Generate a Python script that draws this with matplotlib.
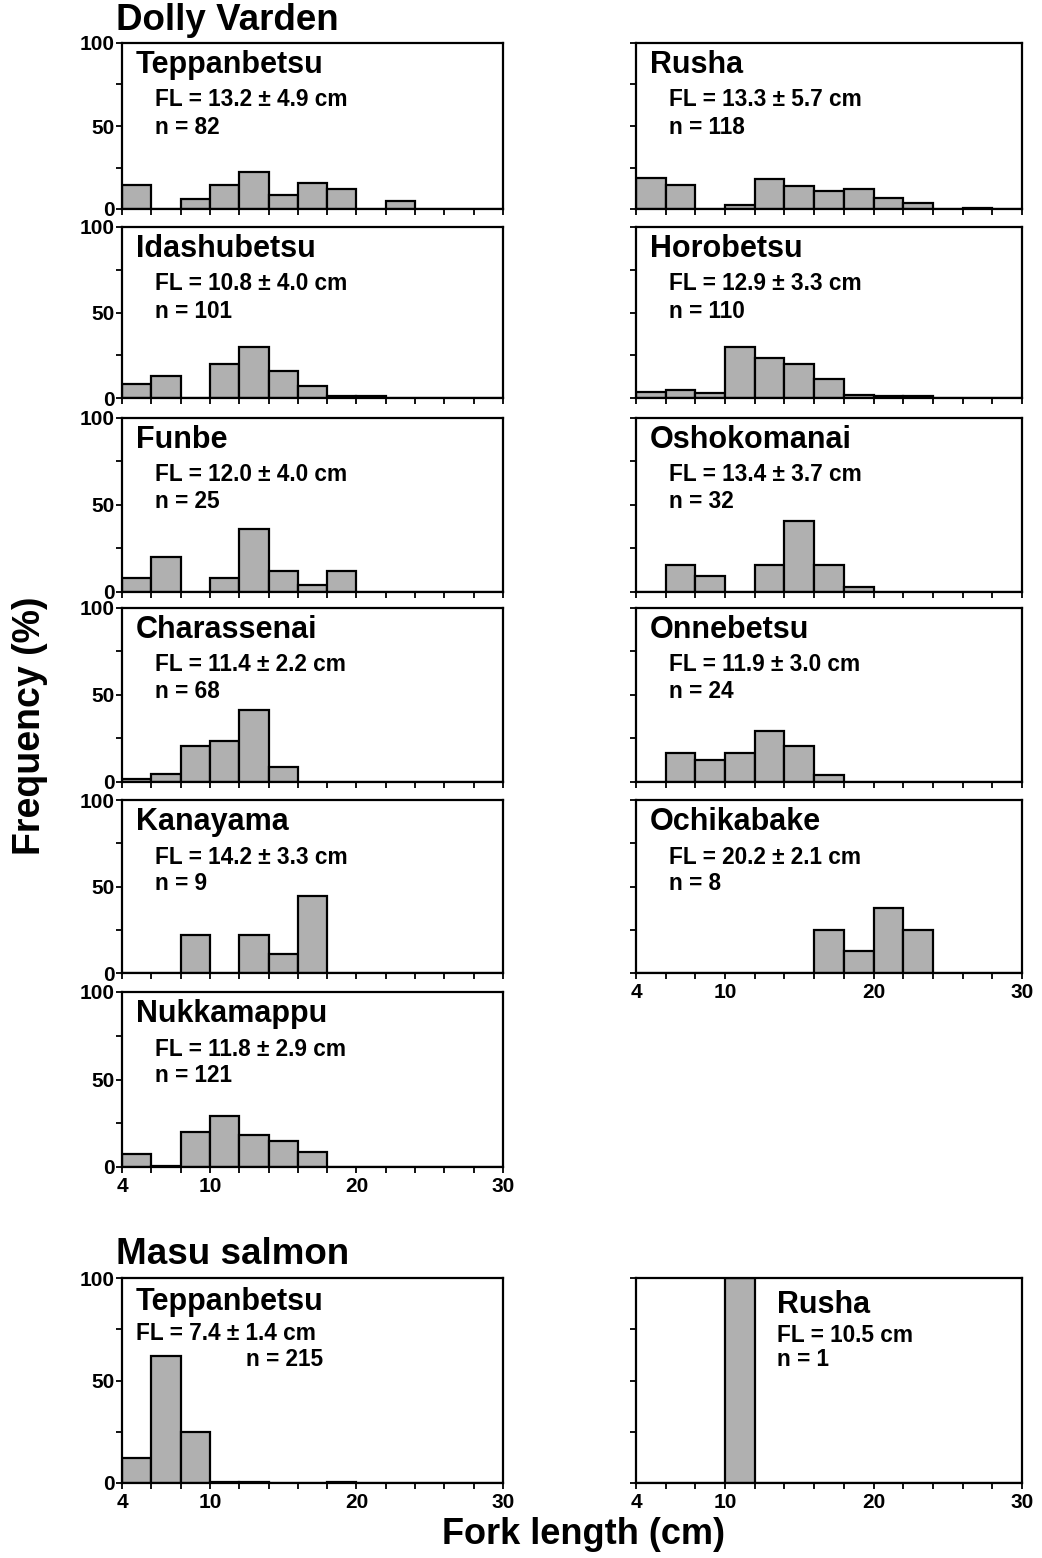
import numpy as np
import matplotlib
matplotlib.use("Agg")
import matplotlib.pyplot as plt

plt.rcParams["font.family"] = ["Liberation Sans", "DejaVu Sans"]
plt.rcParams["font.weight"] = "bold"

# ── data: % frequency per 2-cm fork-length bin (4-6, 6-8, ..., 28-30) ──────────
edges = np.arange(4, 31, 2)

dv_teppanbetsu = [14.6, 0, 6.1, 14.6, 22.0, 8.5, 15.9, 12.2, 0, 4.9, 0, 0, 0]
dv_rusha       = [18.6, 14.4, 0, 2.5, 17.8, 13.6, 11.0, 11.9, 6.8, 3.4, 0, 0.8, 0]
dv_idashubetsu = [7.9, 12.9, 0, 19.8, 29.7, 15.8, 6.9, 1.0, 1.0, 0, 0, 0, 0]
dv_horobetsu   = [3.6, 4.5, 2.7, 30.0, 23.6, 20.0, 10.9, 1.8, 1.4, 0.9, 0, 0, 0]
dv_funbe       = [8.0, 20.0, 0, 8.0, 36.0, 12.0, 4.0, 12.0, 0, 0, 0, 0, 0]
dv_oshokomanai = [0, 15.6, 9.4, 0, 15.6, 40.6, 15.6, 3.1, 0, 0, 0, 0, 0]
dv_charassenai = [1.5, 4.4, 20.6, 23.5, 41.2, 8.8, 0, 0, 0, 0, 0, 0, 0]
dv_onnebetsu   = [0, 16.7, 12.5, 16.7, 29.2, 20.8, 4.2, 0, 0, 0, 0, 0, 0]
dv_kanayama    = [0, 0, 22.2, 0, 22.2, 11.1, 44.4, 0, 0, 0, 0, 0, 0]
dv_ochikabake  = [0, 0, 0, 0, 0, 0, 25.0, 12.5, 37.5, 25.0, 0, 0, 0]
dv_nukkamappu  = [7.4, 0.8, 19.8, 28.9, 18.2, 14.9, 8.3, 0, 0, 0, 0, 0, 0]
ms_teppanbetsu = [12.1, 61.9, 24.7, 0.5, 0.5, 0, 0, 0.5, 0, 0, 0, 0, 0]
ms_rusha       = [0, 0, 0, 100.0, 0, 0, 0, 0, 0, 0, 0, 0, 0]

names = ["Teppanbetsu", "Rusha", "Idashubetsu", "Horobetsu", "Funbe",
         "Oshokomanai", "Charassenai", "Onnebetsu", "Kanayama", "Ochikabake",
         "Nukkamappu", "Teppanbetsu", "Rusha"]
fl_text = ["FL = 13.2 ± 4.9 cm", "FL = 13.3 ± 5.7 cm", "FL = 10.8 ± 4.0 cm",
           "FL = 12.9 ± 3.3 cm", "FL = 12.0 ± 4.0 cm", "FL = 13.4 ± 3.7 cm",
           "FL = 11.4 ± 2.2 cm", "FL = 11.9 ± 3.0 cm", "FL = 14.2 ± 3.3 cm",
           "FL = 20.2 ± 2.1 cm", "FL = 11.8 ± 2.9 cm", "FL = 7.4 ± 1.4 cm",
           "FL = 10.5 cm"]
n_text = ["n = 82", "n = 118", "n = 101", "n = 110", "n = 25", "n = 32",
          "n = 68", "n = 24", "n = 9", "n = 8", "n = 121", "n = 215", "n = 1"]
series = [dv_teppanbetsu, dv_rusha, dv_idashubetsu, dv_horobetsu, dv_funbe,
          dv_oshokomanai, dv_charassenai, dv_onnebetsu, dv_kanayama,
          dv_ochikabake, dv_nukkamappu, ms_teppanbetsu, ms_rusha]

# ── layout (pixels in a 1042 x 1558 figure) ───────────────────────────────────
W, H = 1042, 1558
COL_X = [(122, 503), (636, 1022)]
ROW_Y = [(43, 209), (227, 398), (418, 592), (608, 782), (800, 973),
         (992, 1167), (1278, 1483)]
# (col, row, show x labels)
slots = [(0, 0, False), (1, 0, False), (0, 1, False), (1, 1, False),
         (0, 2, False), (1, 2, False), (0, 3, False), (1, 3, False),
         (0, 4, False), (1, 4, True), (0, 5, True), (0, 6, True), (1, 6, True)]
# text offsets in pixels from the upper-left corner: name, FL, n
DV_OFF = [(14, -22), (33, -57), (33, -84)]
text_offs = [DV_OFF] * 11 + [
    [(14, -24), (14, -55), (124, -82)],
    [(141, -27), (141, -57), (141, -82)],
]

BAR_COLOR = "#b0b0b0"
NAME_FS, INFO_FS, TICK_FS, HEAD_FS = 22, 16.3, 15, 26.5

fig = plt.figure(figsize=(W / 100, H / 100), dpi=100)

for i, (col, row, xlab) in enumerate(slots):
    x0, x1 = COL_X[col]
    y0, y1 = ROW_Y[row]
    ax = fig.add_axes([x0 / W, 1 - y1 / H, (x1 - x0) / W, (y1 - y0) / H])
    ax.bar(edges[:-1], series[i], width=2, align="edge", color=BAR_COLOR,
           edgecolor="black", linewidth=1.6)
    ax.set_xlim(4, 30)
    ax.set_ylim(0, 100)
    for s in ax.spines.values():
        s.set_linewidth(1.6)

    ax.set_xticks(edges)
    ax.set_xticklabels([str(v) if v in (4, 10, 20, 30) else "" for v in edges]
                       if xlab else [])
    ax.set_yticks([0, 50, 100])
    ax.set_yticks([25, 75], minor=True)
    ax.set_yticklabels(["0", "50", "100"] if col == 0 else [])
    ax.tick_params(axis="both", which="both", direction="out", length=4,
                   width=1.3, labelsize=TICK_FS, pad=1)
    ax.tick_params(axis="x", pad=3)

    (nx, ny), (fx, fy), (cx, cy) = text_offs[i]
    ax.annotate(names[i], xy=(0, 1), xycoords="axes fraction",
                xytext=(nx, ny), textcoords="offset pixels",
                fontsize=NAME_FS, fontweight="bold", va="center", ha="left")
    ax.annotate(fl_text[i], xy=(0, 1), xycoords="axes fraction",
                xytext=(fx, fy), textcoords="offset pixels",
                fontsize=INFO_FS, fontweight="bold", va="center", ha="left")
    ax.annotate(n_text[i], xy=(0, 1), xycoords="axes fraction",
                xytext=(cx, cy), textcoords="offset pixels",
                fontsize=INFO_FS, fontweight="bold", va="center", ha="left")

fig.text(116 / W, 1 - 21 / H, "Dolly Varden", fontsize=HEAD_FS,
         fontweight="bold", ha="left", va="center")
fig.text(116 / W, 1 - 1254 / H, "Masu salmon", fontsize=HEAD_FS,
         fontweight="bold", ha="left", va="center")
fig.text(30 / W, 1 - 726 / H, "Frequency (%)", fontsize=27, fontweight="bold",
         rotation=90, ha="center", va="center")
fig.text(584 / W, 1 - 1535 / H, "Fork length (cm)", fontsize=26,
         fontweight="bold", ha="center", va="center")

fig.savefig("out.png", dpi=100)
